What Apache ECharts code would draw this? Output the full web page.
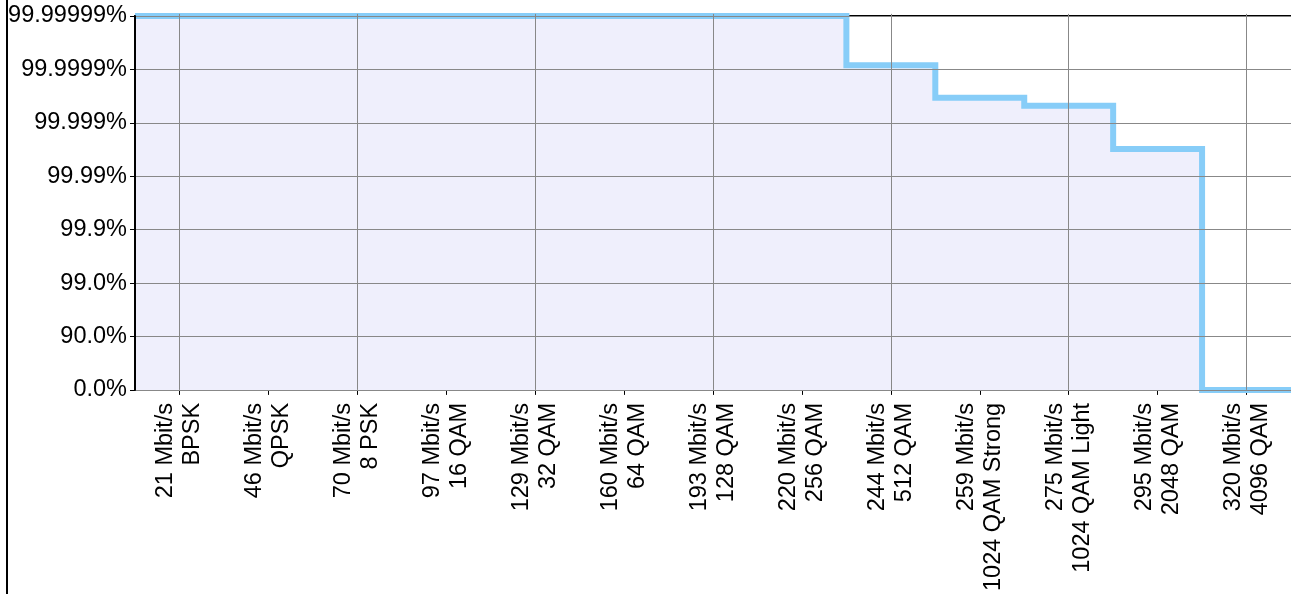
<!DOCTYPE html>
<html>
<head>
<meta charset="utf-8">
<script src="https://cdn.jsdelivr.net/npm/echarts@6/dist/echarts.min.js"></script>
<style>
html,body{margin:0;padding:0;background:#fff;}
#wrap{position:relative;width:1291px;height:594px;overflow:hidden;}
#chart{position:absolute;left:0;top:0;width:1291px;height:594px;}
#border{position:absolute;left:6px;top:0;width:2px;height:594px;background:#000;}
</style>
</head>
<body>
<div id="wrap"><div id="chart"></div><div id="border"></div></div>
<script>
// Categories (rate / modulation)
const categories = [
  '21 Mbit/s\nBPSK',
  '46 Mbit/s\nQPSK',
  '70 Mbit/s\n8 PSK',
  '97 Mbit/s\n16 QAM',
  '129 Mbit/s\n32 QAM',
  '160 Mbit/s\n64 QAM',
  '193 Mbit/s\n128 QAM',
  '220 Mbit/s\n256 QAM',
  '244 Mbit/s\n512 QAM',
  '259 Mbit/s\n1024 QAM Strong',
  '275 Mbit/s\n1024 QAM Light',
  '295 Mbit/s\n2048 QAM',
  '320 Mbit/s\n4096 QAM'
];
// Availability expressed in "number of nines" (0 = 0.0%, 7 = 99.99999%)
const nines = [7, 7, 7, 7, 7, 7, 7, 7, 6.08, 5.47, 5.32, 4.51, 0];
// Y tick labels
const yTickLabels = ['0.0%', '90.0%', '99.0%', '99.9%', '99.99%', '99.999%', '99.9999%', '99.99999%'];

// Step line: each category level spans its whole band
const stepPoints = [];
nines.forEach((v, i) => { stepPoints.push([i - 0.5, v]); stepPoints.push([i + 0.5, v]); });

const FONT = '"Liberation Sans", Arial, sans-serif';
const GRID_COLOR = '#888888';

const chart = echarts.init(document.getElementById('chart'), null, {renderer: 'canvas'});
chart.setOption({
  animation: false,
  backgroundColor: '#fff',
  grid: {left: 135, top: 16, bottom: 202, right: -4, containLabel: false},
  xAxis: [
    {
      type: 'category', data: categories, position: 'bottom', boundaryGap: true,
      axisLine: {show: true, lineStyle: {color: '#000', width: 2}},
      axisTick: {show: true, alignWithLabel: true, length: 5, lineStyle: {color: '#000', width: 1}},
      axisLabel: {interval: 0, rotate: 90, fontSize: 23.5, lineHeight: 27, color: '#000', margin: 13, fontFamily: FONT},
      splitLine: {show: false}
    },
    {
      type: 'category', data: categories, position: 'bottom', boundaryGap: true, z: 5,
      axisLine: {show: false},
      axisTick: {show: true, inside: true, alignWithLabel: true, length: 376, lineStyle: {color: GRID_COLOR, width: 1}},
      axisLabel: {show: false},
      splitLine: {show: false}
    },
    {
      type: 'value', min: -0.5, max: categories.length - 0.5, position: 'top',
      axisLine: {show: true, onZero: false, lineStyle: {color: '#000', width: 2}},
      axisTick: {show: false}, axisLabel: {show: false}, splitLine: {show: false}
    }
  ],
  yAxis: {
    type: 'value', min: 0, max: yTickLabels.length - 1, interval: 1, z: 5,
    axisLine: {show: true, onZero: false, lineStyle: {color: '#000', width: 2}},
    axisTick: {show: true, length: 5, lineStyle: {color: '#000', width: 1}},
    axisLabel: {fontSize: 23.5, color: '#000', margin: 8, fontFamily: FONT,
      formatter: v => yTickLabels[Math.round(v)]},
    splitLine: {show: true, lineStyle: {color: GRID_COLOR, width: 1}}
  },
  series: [{
    type: 'line', xAxisIndex: 2, yAxisIndex: 0, data: stepPoints,
    symbol: 'none', showSymbol: false, clip: false, z: 2,
    lineStyle: {color: '#87cdf8', width: 6, join: 'miter', cap: 'butt'},
    areaStyle: {color: '#efeffc', opacity: 1, origin: 'start'}
  }]
});
</script>
</body>
</html>
